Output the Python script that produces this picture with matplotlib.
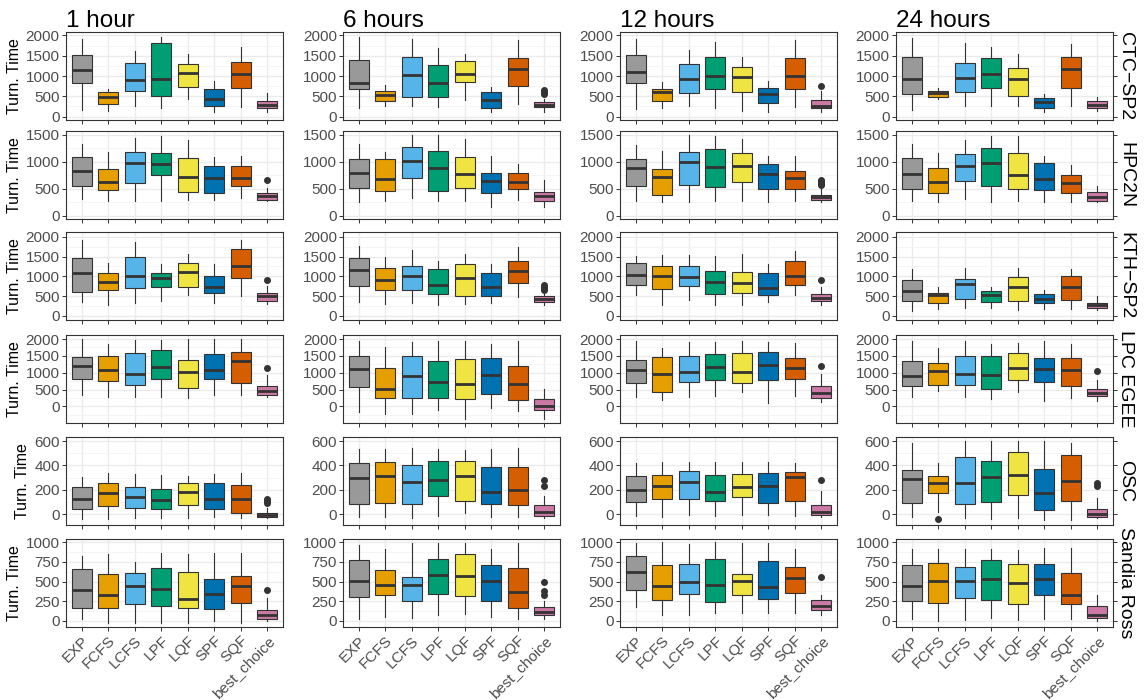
import matplotlib.pyplot as plt

plt.rcParams['font.family'] = ['Liberation Sans', 'DejaVu Sans']

POLICIES = ["EXP", "FCFS", "LCFS", "LPF", "LQF", "SPF", "SQF", "best_choice"]
COLORS = ["#999999", "#E69F00", "#56B4E9", "#009E73", "#F0E442", "#0072B2", "#D55E00", "#CC79A7"]
HORIZONS = ["1 hour", "6 hours", "12 hours", "24 hours"]
TRACES = ["CTC\u2212SP2", "HPC2N", "KTH\u2212SP2", "LPC EGEE", "OSC", "Sandia Ross"]

# box stats per policy: (whisker low, q1, median, q3, whisker high)
ctc_1h = [(170, 825, 1149, 1506, 1906), (145, 315, 485, 613, 681), (272, 630, 902, 1310, 1617), (204, 502, 936, 1804, 1957),
          (425, 732, 1072, 1285, 1549), (119, 255, 442, 672, 885), (230, 715, 1055, 1336, 1719), (119, 204, 289, 383, 587)]
ctc_6h = [(204, 681, 825, 1396, 1957), (255, 391, 528, 630, 783), (272, 477, 1021, 1464, 1906), (247, 477, 825, 1277, 1693),
          (417, 851, 1055, 1362, 1532), (119, 221, 400, 596, 723), (315, 757, 1166, 1447, 1889), (119, 230, 289, 357, 442)]
ctc_12h = [(187, 825, 1106, 1523, 1906), (204, 391, 596, 672, 842), (255, 570, 936, 1293, 1634), (204, 681, 996, 1464, 1838),
           (145, 613, 970, 1234, 1464), (119, 332, 545, 698, 885), (247, 681, 996, 1438, 1889), (102, 213, 272, 417, 640)]
ctc_24h = [(170, 553, 928, 1464, 1932), (442, 477, 570, 630, 698), (255, 596, 953, 1310, 1804), (255, 715, 1055, 1447, 1719),
           (272, 511, 936, 1208, 1549), (119, 204, 357, 468, 545), (255, 715, 1183, 1464, 1787), (128, 204, 289, 374, 485)]

hpc_1h = [(304, 552, 837, 1085, 1333), (273, 477, 632, 862, 1190), (267, 601, 973, 1190, 1438), (273, 756, 955, 1172, 1482),
          (285, 434, 719, 1066, 1407), (291, 415, 694, 924, 1097), (335, 552, 707, 924, 1116), (273, 291, 366, 428, 508)]
hpc_6h = [(260, 521, 787, 1048, 1333), (273, 459, 688, 1054, 1190), (322, 694, 1023, 1283, 1500), (273, 459, 880, 1203, 1500),
          (273, 508, 769, 1085, 1420), (155, 428, 651, 800, 1110), (291, 496, 620, 800, 961), (167, 279, 366, 434, 663)]
hpc_12h = [(273, 558, 880, 1048, 1314), (260, 384, 725, 868, 1203), (254, 570, 1004, 1178, 1500), (273, 527, 911, 1240, 1482),
           (273, 632, 924, 1159, 1420), (260, 490, 775, 961, 1110), (273, 490, 694, 837, 1110), (260, 291, 341, 384, 540)]
hpc_24h = [(279, 490, 769, 1066, 1333), (260, 428, 632, 880, 1172), (310, 651, 924, 1141, 1407), (260, 552, 973, 1252, 1482),
           (279, 490, 756, 1159, 1482), (260, 477, 682, 973, 1110), (260, 428, 601, 756, 942), (254, 279, 341, 434, 552)]

kth_1h = [(350, 600, 1083, 1475, 1917), (283, 658, 850, 1083, 1350), (333, 700, 1017, 1492, 1875), (367, 742, 958, 1083, 1308),
          (517, 725, 1117, 1333, 1575), (333, 575, 742, 1000, 1308), (500, 950, 1267, 1700, 1933), (292, 375, 492, 583, 767)]
kth_6h = [(350, 750, 1167, 1475, 1767), (292, 658, 917, 1208, 1492), (333, 658, 1000, 1267, 1667), (267, 558, 792, 1183, 1392),
          (308, 500, 958, 1325, 1575), (333, 492, 742, 1075, 1308), (475, 825, 1142, 1392, 1750), (267, 350, 417, 492, 600)]
kth_12h = [(517, 792, 1042, 1333, 1517), (283, 667, 1000, 1267, 1542), (392, 750, 992, 1267, 1542), (267, 558, 850, 1142, 1517),
           (283, 575, 833, 1117, 1575), (350, 533, 708, 1075, 1325), (517, 792, 1000, 1392, 1642), (267, 375, 458, 558, 725)]
kth_24h = [(125, 375, 617, 917, 1183), (183, 325, 533, 575, 742), (208, 417, 808, 933, 1208), (200, 350, 517, 617, 742),
           (142, 375, 725, 975, 1208), (183, 325, 433, 558, 642), (183, 392, 725, 1017, 1183), (142, 200, 283, 325, 492)]

lpc_1h = [(328, 826, 1194, 1473, 2000), (279, 756, 1095, 1493, 1841), (279, 647, 955, 1572, 1970), (279, 826, 1174, 1672, 1970),
          (259, 547, 1025, 1393, 2000), (348, 806, 1095, 1552, 1990), (348, 706, 1353, 1622, 2000), (279, 348, 448, 597, 945)]
lpc_6h = [(-149, 577, 1124, 1502, 1940), (-219, 259, 507, 1154, 1751), (-219, 259, 896, 1502, 1900), (-100, 259, 726, 1353, 1940),
          (-368, 209, 677, 1423, 1940), (-40, 358, 925, 1443, 1841), (-139, 199, 677, 1204, 1940), (-368, -119, 0, 209, 527)]
lpc_12h = [(279, 706, 1075, 1373, 1940), (179, 428, 975, 1473, 1741), (279, 726, 1025, 1502, 1920), (308, 796, 1174, 1552, 1920),
           (428, 706, 1025, 1572, 1940), (109, 776, 1224, 1622, 1920), (308, 826, 1154, 1443, 1871), (129, 259, 408, 607, 975)]
lpc_24h = [(279, 607, 896, 1353, 1940), (458, 647, 1045, 1294, 1741), (279, 627, 955, 1502, 1940), (209, 527, 925, 1502, 1841),
           (428, 796, 1154, 1592, 1871), (149, 726, 1104, 1443, 1940), (249, 597, 1075, 1443, 1841), (149, 298, 408, 507, 796)]

osc_1h = [(-36, 47, 129, 220, 308), (-36, 69, 171, 253, 336), (-33, 50, 143, 226, 330), (-33, 41, 118, 206, 325),
          (-28, 74, 184, 253, 316), (-22, 41, 124, 253, 330), (-28, 8, 129, 242, 338), (-28, -19, -6, 14, 55)]
osc_6h = [(-22, 88, 294, 418, 537), (-22, 91, 311, 427, 537), (-28, 88, 267, 407, 542), (-14, 146, 283, 435, 537),
          (8, 110, 311, 435, 528), (-19, 83, 179, 385, 537), (-22, 74, 201, 391, 542), (-28, -14, 19, 77, 146)]
osc_12h = [(-14, 102, 201, 316, 421), (-19, 129, 234, 325, 427), (-8, 124, 267, 352, 432), (-14, 105, 179, 325, 432),
           (-8, 138, 226, 330, 427), (-6, 96, 234, 336, 432), (-14, 105, 303, 344, 421), (-19, -8, 19, 74, 193)]
osc_24h = [(-19, 96, 289, 363, 586), (22, 173, 253, 316, 421), (-33, 88, 253, 468, 600), (-36, 102, 303, 440, 600),
           (-28, 157, 322, 509, 600), (-47, 33, 171, 372, 600), (-47, 110, 275, 487, 586), (-33, -22, 6, 47, 132)]

san_1h = [(17, 165, 397, 663, 819), (-25, 165, 333, 595, 848), (-25, 219, 447, 608, 747), (-25, 186, 405, 671, 869),
          (-25, 165, 283, 620, 848), (-4, 152, 346, 532, 869), (-25, 228, 439, 565, 869), (-4, 17, 68, 143, 291)]
san_6h = [(17, 300, 502, 768, 966), (46, 333, 460, 650, 911), (38, 249, 460, 553, 987), (72, 342, 578, 789, 987),
          (89, 321, 565, 848, 987), (46, 249, 511, 705, 911), (17, 156, 363, 671, 987), (17, 72, 114, 173, 249)]
san_12h = [(173, 388, 620, 819, 987), (68, 262, 439, 705, 1000), (72, 346, 494, 726, 975), (93, 236, 452, 785, 1000),
           (93, 325, 511, 599, 987), (93, 279, 426, 764, 987), (101, 354, 544, 684, 911), (72, 131, 194, 270, 333)]
san_24h = [(17, 249, 439, 713, 916), (-4, 228, 511, 734, 916), (4, 291, 511, 684, 916), (38, 270, 536, 768, 916),
           (4, 207, 481, 722, 903), (17, 333, 532, 722, 924), (17, 207, 333, 608, 924), (-4, 38, 72, 186, 333)]

# outliers: {policy index: values}
ctc_out = [{}, {7: [545, 596, 655]}, {7: [757]}, {}]
hpc_out = [{7: [663]}, {}, {7: [570, 590, 610, 630, 650, 670]}, {}]
kth_out = [{7: [908]}, {7: [650, 700, 740, 770]}, {7: [917]}, {}]
lpc_out = [{7: [1144]}, {}, {7: [1194]}, {7: [1055]}]
osc_out = [{7: [96, 110, 124]}, {7: [228, 283]}, {7: [281]}, {1: [-41], 7: [234, 255]}]
san_out = [{7: [397]}, {7: [325, 384, 490]}, {7: [553]}, {}]

ROWS = [[ctc_1h, ctc_6h, ctc_12h, ctc_24h], [hpc_1h, hpc_6h, hpc_12h, hpc_24h],
        [kth_1h, kth_6h, kth_12h, kth_24h], [lpc_1h, lpc_6h, lpc_12h, lpc_24h],
        [osc_1h, osc_6h, osc_12h, osc_24h], [san_1h, san_6h, san_12h, san_24h]]
OUTS = [ctc_out, hpc_out, kth_out, lpc_out, osc_out, san_out]
YLIMS = [(-85, 2085), (-62, 1574), (-108, 2125), (-490, 2120), (-88, 633), (-80, 1042)]
YSTEP = [500, 500, 500, 500, 200, 250]
YMAX = [2000, 1500, 2000, 2000, 600, 1000]

W, H = 1145, 700
col_left = [66, 343, 620, 896]
row_top = [32, 131, 232, 335, 437, 539]
pw, ph = 217, 88

fig = plt.figure(figsize=(W / 100, H / 100), dpi=100)

for r in range(6):
    for c in range(4):
        ax = fig.add_axes([col_left[c] / W, 1 - (row_top[r] + ph) / H, pw / W, ph / H])
        stats = []
        for i, (lo, q1, med, q3, hi) in enumerate(ROWS[r][c]):
            stats.append(dict(whislo=lo, q1=q1, med=med, q3=q3, whishi=hi,
                              fliers=OUTS[r][c].get(i, [])))
        bp = ax.bxp(stats, positions=range(1, 9), widths=0.75, patch_artist=True,
                    showcaps=False,
                    boxprops=dict(edgecolor='#333333', linewidth=0.8),
                    medianprops=dict(color='#333333', linewidth=2),
                    whiskerprops=dict(color='#333333', linewidth=0.8),
                    flierprops=dict(marker='o', markersize=4, markerfacecolor='#333333',
                                    markeredgecolor='#333333'))
        for patch, col in zip(bp['boxes'], COLORS):
            patch.set_facecolor(col)

        ax.set_xlim(0.4, 8.6)
        ax.set_ylim(*YLIMS[r])
        step = YSTEP[r]
        ax.set_yticks(range(0, YMAX[r] + 1, step))
        ax.set_yticks([v / 2 for v in range(-step, 2 * YMAX[r] + step + 1, step)
                       if YLIMS[r][0] < v / 2 < YLIMS[r][1] and v % (2 * step)], minor=True)
        ax.set_axisbelow(True)
        ax.grid(which='major', color='#EBEBEB', linewidth=1.0)
        ax.grid(which='minor', axis='y', color='#F4F4F4', linewidth=0.6)
        ax.tick_params(which='minor', length=0)
        ax.tick_params(which='major', color='#333333', length=3, width=0.7,
                       labelcolor='#4D4D4D', labelsize=11, pad=1.5)
        for s in ax.spines.values():
            s.set_color('#333333')
            s.set_linewidth(0.8)

        ax.set_xticks(range(1, 9))
        if r == 5:
            ax.set_xticklabels(POLICIES, rotation=45, ha='right', rotation_mode='anchor')
        else:
            ax.set_xticklabels([])

        if c == 0:
            ax.set_ylabel("Turn. Time", fontsize=11.5, labelpad=3)
        if c == 3:
            ax.tick_params(axis='y', which='major', right=True)
            ax.text(1.02, 0.5, TRACES[r], transform=ax.transAxes, rotation=-90,
                    ha='left', va='center', fontsize=14)
        if r == 0:
            ax.set_title(HORIZONS[c], loc='left', fontsize=17.5, pad=3)

plt.savefig("out.png", dpi=100)
